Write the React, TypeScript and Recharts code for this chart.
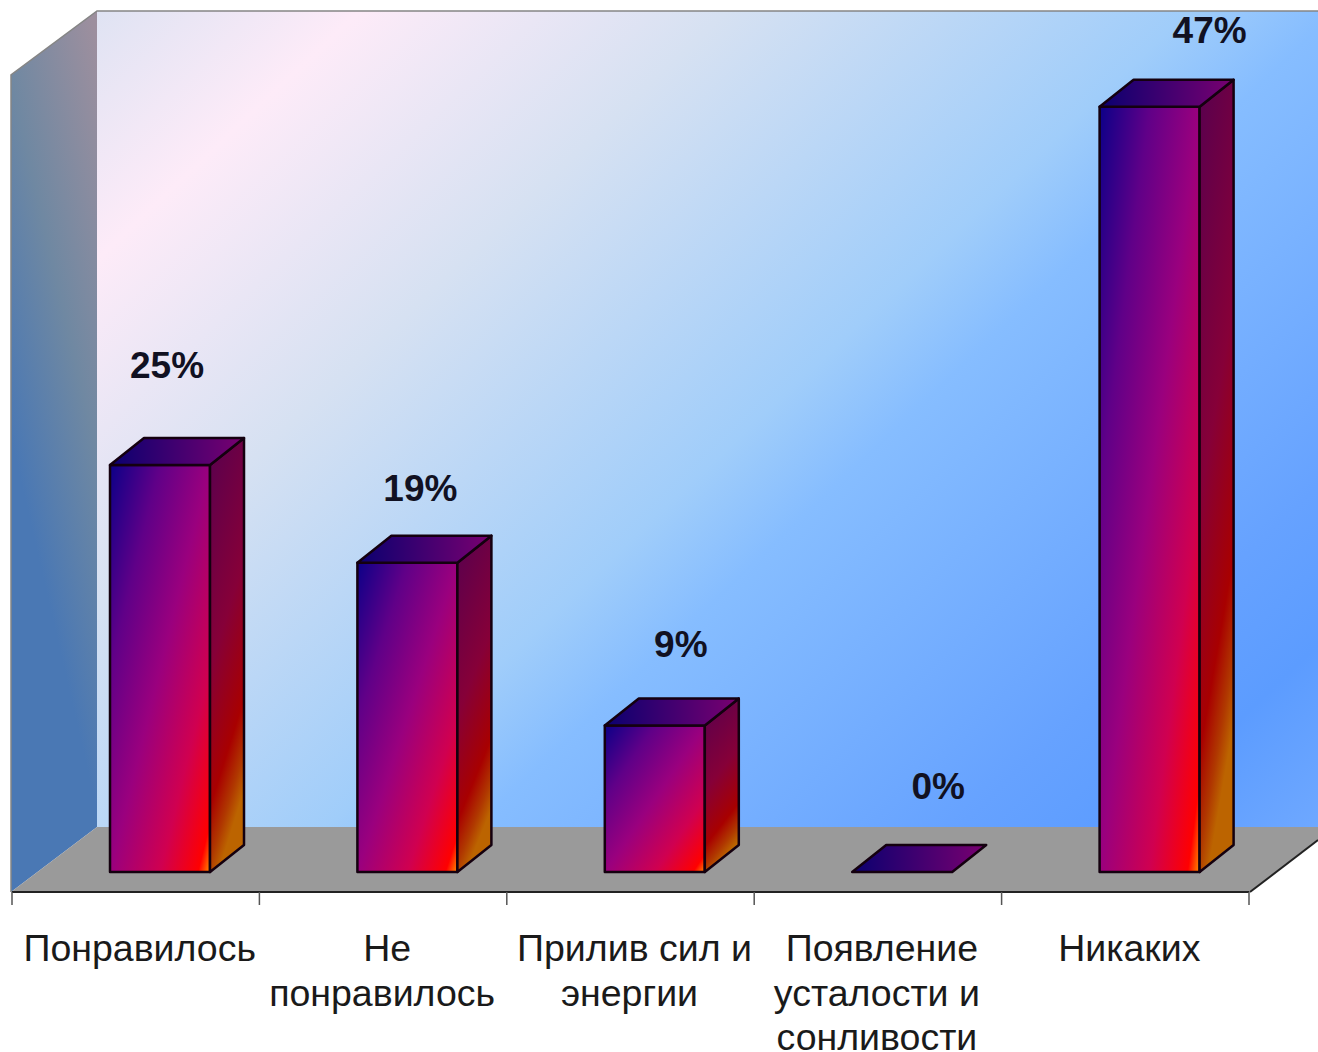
import React from 'react';
import { Bar, BarChart, LabelList, XAxis, YAxis } from 'recharts';

const CATEGORIES = [
  'Понравилось',
  'Не\nпонравилось',
  'Прилив сил и\nэнергии',
  'Появление\nусталости и\nсонливости',
  'Никаких',
];
const PERCENTS = [25, 19, 9, 0, 47];

const data = CATEGORIES.map((category, i) => ({ category, percent: PERCENTS[i] }));

const WIDTH = 1318;
const HEIGHT = 1052;
const FONT = '"Liberation Sans", Arial, sans-serif';
const BAND = 247.4;

// bars stand on the floor, shifted back from the axis plane
const FLOOR_DX = 24;
const FLOOR_DY = 20;
const DEPTH_X = 34;
const DEPTH_Y = 27;

// hand placed percent labels, relative to the top of each bar's slot
const LABEL_NUDGE = [
  [31, -120],
  [37, -94],
  [50, -101],
  [60, -106],
  [84, -96],
];

function Defs() {
  return (
    <defs>
      <linearGradient id="backWall" gradientUnits="userSpaceOnUse" x1={97} y1={11} x2={1090} y2={1060}>
        <stop offset="0%" stopColor="#dfe3f3" />
        <stop offset="12.5%" stopColor="#fdebf8" />
        <stop offset="30%" stopColor="#d6e1f2" />
        <stop offset="52%" stopColor="#a0cdfa" />
        <stop offset="59%" stopColor="#86bdff" />
        <stop offset="82%" stopColor="#66a2ff" />
        <stop offset="90%" stopColor="#5c9cff" />
        <stop offset="100%" stopColor="#70a9ff" />
      </linearGradient>
      <linearGradient id="sideWall" gradientUnits="userSpaceOnUse" x1={97} y1={40} x2={-72} y2={79}>
        <stop offset="0%" stopColor="#9d8f9e" />
        <stop offset="54%" stopColor="#6f88a2" />
        <stop offset="100%" stopColor="#4a78b4" />
      </linearGradient>
      <linearGradient id="barFront" x1="0" y1="0" x2="1" y2="1">
        <stop offset="0%" stopColor="#0c0088" />
        <stop offset="25%" stopColor="#600088" />
        <stop offset="50%" stopColor="#9a007e" />
        <stop offset="75%" stopColor="#d00050" />
        <stop offset="94%" stopColor="#ff0000" />
        <stop offset="100%" stopColor="#ff9000" />
      </linearGradient>
      <linearGradient id="barSide" x1="0" y1="0" x2="0.25" y2="1">
        <stop offset="0%" stopColor="#58004f" />
        <stop offset="50%" stopColor="#860038" />
        <stop offset="80%" stopColor="#a80000" />
        <stop offset="92%" stopColor="#b03800" />
        <stop offset="100%" stopColor="#bc6400" />
      </linearGradient>
      <linearGradient id="barTop" x1="0" y1="0" x2="1" y2="0">
        <stop offset="0%" stopColor="#0a0070" />
        <stop offset="100%" stopColor="#7a0070" />
      </linearGradient>
    </defs>
  );
}

function Room() {
  return (
    <g>
      <rect x={97} y={11} width={WIDTH - 97} height={816} fill="url(#backWall)" />
      <polygon points="11,75 97,11 97,827 11,892" fill="url(#sideWall)" />
      <polygon points={`97,827 ${WIDTH},827 ${WIDTH},840 1250,892 11,892`} fill="#9a9a9a" />
      <polyline points={`11,892 11,75 97,11 ${WIDTH},11`} fill="none" stroke="#858585" strokeWidth={1.5} />
      <line x1={1250} y1={892} x2={WIDTH} y2={840} stroke="#222" strokeWidth={2} />
    </g>
  );
}

function Bar3D(props: any) {
  const { x, y, width, height } = props;
  const left = x + FLOOR_DX;
  const right = left + width;
  const top = y - FLOOR_DY;
  const bottom = top + height;
  const edge = { stroke: '#14000f', strokeWidth: 2.5, strokeLinejoin: 'round' as const };
  return (
    <g>
      {height > 0 && (
        <>
          <rect x={left} y={top} width={width} height={height} fill="url(#barFront)" {...edge} />
          <polygon
            points={`${right},${top} ${right + DEPTH_X},${top - DEPTH_Y} ${right + DEPTH_X},${bottom - DEPTH_Y} ${right},${bottom}`}
            fill="url(#barSide)"
            {...edge}
          />
        </>
      )}
      <polygon
        points={`${left},${top} ${left + DEPTH_X},${top - DEPTH_Y} ${right + DEPTH_X},${top - DEPTH_Y} ${right},${top}`}
        fill="url(#barTop)"
        {...edge}
      />
    </g>
  );
}

function PercentLabel(props: any) {
  const { x, y, width, index, value } = props;
  const [dx, dy] = LABEL_NUDGE[index];
  return (
    <text
      x={x + width / 2 + dx}
      y={y + dy}
      textAnchor="middle"
      dominantBaseline="central"
      fontFamily={FONT}
      fontSize={37}
      fontWeight="bold"
      fill="#111122"
    >
      {value}%
    </text>
  );
}

function CategoryTick(props: any) {
  const { x, y, payload, index } = props;
  const lines = String(payload.value).split('\n');
  return (
    <g>
      <line x1={x - BAND / 2} y1={y} x2={x - BAND / 2} y2={y + 13} stroke="#555" strokeWidth={1.5} />
      {index === CATEGORIES.length - 1 && (
        <line x1={x + BAND / 2} y1={y} x2={x + BAND / 2} y2={y + 13} stroke="#555" strokeWidth={1.5} />
      )}
      <text textAnchor="middle" fontFamily={FONT} fontSize={37.5} fill="#1a1a1a">
        {lines.map((line, i) => (
          <tspan key={line} x={i === 0 ? x + 4 : x - 1} y={y + 69 + i * 44.5}>
            {line}
          </tspan>
        ))}
      </text>
    </g>
  );
}

export default function App() {
  return (
    <div style={{ position: 'absolute', left: 0, top: 0, width: WIDTH, height: HEIGHT, overflow: 'hidden' }}>
      <BarChart
        width={WIDTH}
        height={HEIGHT}
        data={data}
        margin={{ top: 78, right: 69, bottom: 0, left: 12 }}
      >
        <Defs />
        <Room />
        <XAxis
          dataKey="category"
          height={160}
          interval={0}
          tickLine={false}
          tickSize={0}
          tickMargin={0}
          axisLine={{ stroke: '#222', strokeWidth: 2 }}
          tick={<CategoryTick />}
        />
        <YAxis hide domain={[0, 50]} />
        <Bar dataKey="percent" barSize={100} shape={<Bar3D />} isAnimationActive={false}>
          <LabelList dataKey="percent" content={<PercentLabel />} />
        </Bar>
      </BarChart>
    </div>
  );
}
